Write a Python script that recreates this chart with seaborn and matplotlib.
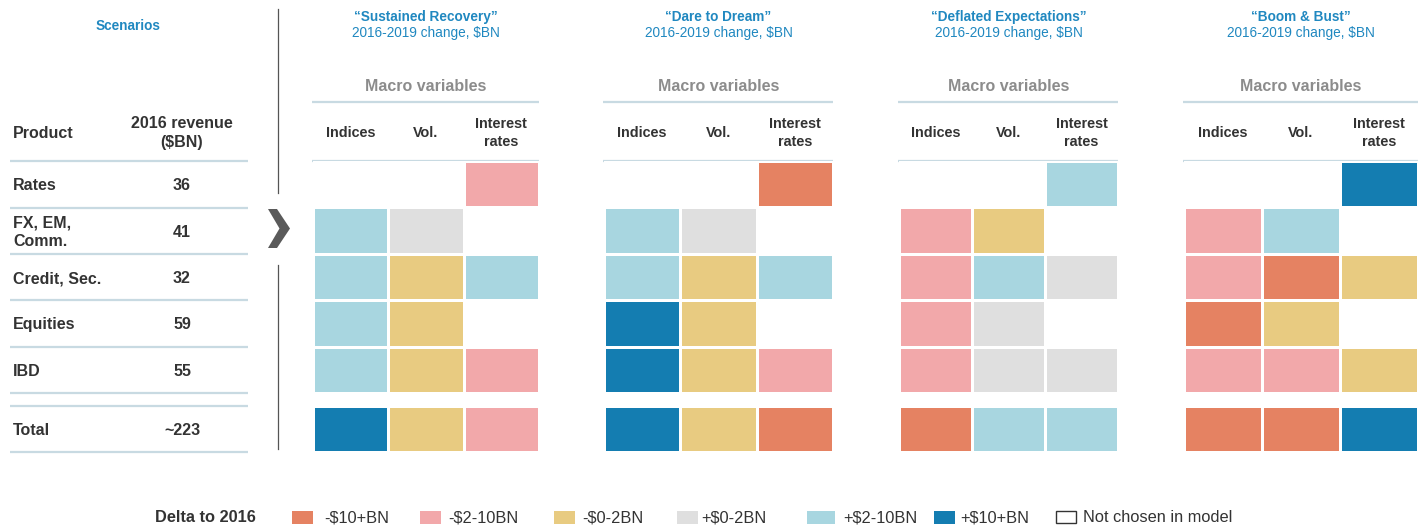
import numpy as np
import pandas as pd
import matplotlib
matplotlib.use("Agg")
import matplotlib.pyplot as plt
from matplotlib.colors import ListedColormap
from matplotlib.patches import Polygon, Rectangle
import seaborn as sns

plt.rcParams['font.family'] = ['Liberation Sans', 'DejaVu Sans']

# ---------------- data ----------------
products = ["Rates", "FX, EM,\nComm.", "Credit, Sec.", "Equities", "IBD"]
revenues = ["36", "41", "32", "59", "55"]
total_label = "Total"
total_revenue = "~223"
variables = ["Indices", "Vol.", "Interest\nrates"]
scenarios = ["\u201cSustained Recovery\u201d", "\u201cDare to Dream\u201d",
             "\u201cDeflated Expectations\u201d", "\u201cBoom & Bust\u201d"]
subtitle = "2016-2019 change, $BN"

# category codes: 0=-$10+BN 1=-$2-10BN 2=-$0-2BN 3=+$0-2BN 4=+$2-10BN 5=+$10+BN, nan = not chosen
nan = np.nan
sustained_recovery = [[nan, nan, 1], [4, 3, nan], [4, 2, 4], [4, 2, nan], [4, 2, 1]]
sustained_recovery_total = [5, 2, 1]
dare_to_dream = [[nan, nan, 0], [4, 3, nan], [4, 2, 4], [5, 2, nan], [5, 2, 1]]
dare_to_dream_total = [5, 2, 0]
deflated_expectations = [[nan, nan, 4], [1, 2, nan], [1, 4, 3], [1, 3, nan], [1, 3, 3]]
deflated_expectations_total = [0, 4, 4]
boom_and_bust = [[nan, nan, 5], [1, 4, nan], [1, 0, 2], [0, 2, nan], [1, 1, 2]]
boom_and_bust_total = [0, 0, 5]

legend_labels = ["-$10+BN", "-$2-10BN", "-$0-2BN", "+$0-2BN", "+$2-10BN", "+$10+BN"]
colors = ["#E58262", "#F2A8AA", "#E8CB81", "#DFDFDF", "#A8D6E0", "#147DB1"]

panels = [sustained_recovery, dare_to_dream, deflated_expectations, boom_and_bust]
totals = [sustained_recovery_total, dare_to_dream_total,
          deflated_expectations_total, boom_and_bust_total]

# ---------------- layout ----------------
W, H = 1427, 527
fig = plt.figure(figsize=(W / 100, H / 100), dpi=100)
ax0 = fig.add_axes([0, 0, 1, 1])
ax0.set_xlim(0, W)
ax0.set_ylim(H, 0)
ax0.axis("off")

DARK = "#333333"
BLUE = "#2088C0"
GREY = "#8C8C8C"
LINE = "#C8DAE2"
cmap = ListedColormap(colors)


def px_axes(x0, y0, x1, y1):
    return fig.add_axes([x0 / W, 1 - y1 / H, (x1 - x0) / W, (y1 - y0) / H])


panel_x = [(313, 539), (604, 833), (899, 1118), (1184, 1418)]
main_y = (161, 393)
tot_y = (406, 452)

for i, (xl, xr) in enumerate(panel_x):
    df = pd.DataFrame(panels[i], index=[p.replace("\n", " ") for p in products],
                      columns=[v.replace("\n", " ") for v in variables])
    ax = px_axes(xl, main_y[0], xr, main_y[1])
    sns.heatmap(df, ax=ax, cmap=cmap, vmin=-0.5, vmax=5.5, cbar=False,
                linewidths=1.0, linecolor="white", xticklabels=False, yticklabels=False)
    ax.set_axis_off()
    dft = pd.DataFrame([totals[i]], index=[total_label], columns=df.columns)
    axt = px_axes(xl, tot_y[0], xr, tot_y[1])
    sns.heatmap(dft, ax=axt, cmap=cmap, vmin=-0.5, vmax=5.5, cbar=False,
                linewidths=1.0, linecolor="white", xticklabels=False, yticklabels=False)
    axt.set_axis_off()

    cx = (xl + xr) / 2
    ax0.text(cx, 21, scenarios[i], ha="center", va="baseline", color=BLUE,
             fontsize=9.8, fontweight="bold")
    ax0.text(cx, 37, subtitle, ha="center", va="baseline", color=BLUE, fontsize=9.8)
    ax0.text(cx, 86.5, "Macro variables", ha="center", va="center", color=GREY,
             fontsize=11.5, fontweight="bold")
    ax0.plot([xl - 1, xr], [101.5, 101.5], color=LINE, lw=1.6, solid_capstyle="butt")
    ax0.plot([xl - 1, xr], [160.5, 160.5], color=LINE, lw=1.6, solid_capstyle="butt")
    cw = (xr - xl) / len(variables)
    for j, v in enumerate(variables):
        ax0.text(xl + cw * (j + 0.5), 133, v, ha="center", va="center", color=DARK,
                 fontsize=10.4, fontweight="bold", linespacing=1.45)

# left table
ax0.text(128, 30, "Scenarios", ha="center", va="baseline", color=BLUE,
         fontsize=9.8, fontweight="bold")
ax0.text(13, 133, "Product", ha="left", va="center", color=DARK, fontsize=11.5,
         fontweight="bold")
ax0.text(182, 133, "2016 revenue\n($BN)", ha="center", va="center", color=DARK,
         fontsize=11.5, fontweight="bold", linespacing=1.4)
row_lines = [160.5, 207.5, 254, 300, 346.5, 393]
for y in row_lines + [406, 452]:
    ax0.plot([10, 248], [y, y], color=LINE, lw=1.6, solid_capstyle="butt")
for k, (p, r) in enumerate(zip(products, revenues)):
    yc = (row_lines[k] + row_lines[k + 1]) / 2 + 1.5
    ax0.text(13, yc, p, ha="left", va="center", color=DARK, fontsize=11.5,
             fontweight="bold", linespacing=1.3)
    ax0.text(182, yc, r, ha="center", va="center", color=DARK, fontsize=11.5,
             fontweight="bold")
ax0.text(13, 430.5, total_label, ha="left", va="center", color=DARK, fontsize=11.5,
         fontweight="bold")
ax0.text(182, 430.5, total_revenue, ha="center", va="center", color=DARK, fontsize=11.5,
         fontweight="bold")

# separator and chevron
ax0.plot([277.5, 277.5], [9, 193], color="#555555", lw=0.9)
ax0.plot([277.5, 277.5], [265, 449], color="#555555", lw=0.9)
ax0.add_patch(Polygon([(268, 209), (277, 209), (290, 228.5), (277, 248), (268, 248),
                       (279.5, 228.5)], closed=True, facecolor="#5A5A5A", edgecolor="none"))

# legend
ax0.text(155, 518, "Delta to 2016", ha="left", va="center", color=DARK,
         fontsize=11.8, fontweight="bold")
patch_x = [292, 420, 554, 677, 807, 934]
patch_w = [21, 21, 21, 21, 28, 21]
text_x = [324, 448, 582, 701, 843, 960]
for px, pw, tx, lab, c in zip(patch_x, patch_w, text_x, legend_labels, colors):
    ax0.add_patch(Rectangle((px, 511), pw, 13, facecolor=c, edgecolor="none"))
    ax0.text(tx, 518, lab, ha="left", va="center", color=DARK, fontsize=11.8)
ax0.add_patch(Rectangle((1056, 511), 20, 12, facecolor="white", edgecolor="#333333", lw=1))
ax0.text(1083, 518, "Not chosen in model", ha="left", va="center", color=DARK,
         fontsize=11.8)

fig.savefig("out.png", dpi=100)
